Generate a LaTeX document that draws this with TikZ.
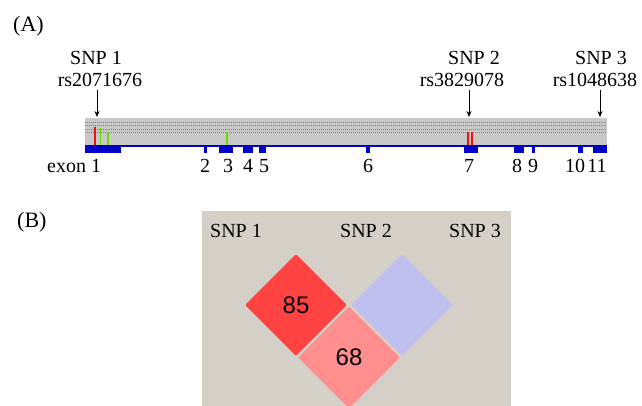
\documentclass[tikz,border=0pt]{standalone}
\usepackage{fontspec}
\setmainfont{Liberation Serif}
\newfontfamily\numfont{Liberation Sans}
\usetikzlibrary{arrows.meta,shapes.geometric}
\definecolor{bandgray}{HTML}{C8C8C8}
\definecolor{dotgray}{HTML}{808080}
\definecolor{panelgray}{HTML}{D4D0C8}
\definecolor{exonblue}{HTML}{0000C8}
\definecolor{ldred}{HTML}{FF4242}
\definecolor{ldpink}{HTML}{FF8E8E}
\definecolor{ldblue}{HTML}{C0C0EE}
\definecolor{snpred}{HTML}{F01010}
\definecolor{snpgreen}{HTML}{66DD00}
\tikzset{
  lbl/.style={inner sep=0pt, anchor=base, font=\fontsize{20}{24}\selectfont},
  panellbl/.style={inner sep=0pt, anchor=base west, font=\fontsize{22}{26}\selectfont},
  exonblk/.style={fill=exonblue, draw=none},
  snparrow/.style={draw=black, line width=0.7pt, -{Stealth[length=6pt,width=5pt]}},
  ldbox/.style={diamond, minimum width=102pt, minimum height=102pt, inner sep=0pt, aspect=1, rounded corners=2pt, font=\numfont\fontsize{24}{28}\selectfont},
  dots/.style={draw=dotgray, line width=0.9pt, dash pattern=on 1pt off 1pt},
  snpline/.style={line width=1.6pt}
}
\begin{document}
\begin{tikzpicture}[x=1pt,y=-1pt]
\useasboundingbox (0,0) rectangle (642,406);
\fill[white] (0,0) rectangle (642,406);
% ---------- Panel A ----------
\node[panellbl] (labA) at (13,32) {(A)};
% gray band
\fill[bandgray] (85,118) rectangle (607,145);
\foreach \yy in {122,125.5,129,132.5}
  \draw[dots] (85,\yy) -- (607,\yy);
% blue gene line
\draw[exonblue, line width=1.6pt] (85,146.2) -- (607,146.2);
% exon blocks
\foreach \xa/\xb in {85/121, 204/206.5, 219/233, 243/253, 259/266, 366/369.5, 464/478, 514/524, 532/534.5, 578/583, 593/607}
  \fill[exonblk] (\xa,145.5) rectangle (\xb,153);
% SNP markers
\draw[snpline, snpred] (95,127) -- (95,145);
\draw[snpline, snpgreen] (100.5,128) -- (100.5,145);
\draw[snpline, snpgreen] (108,132) -- (108,145);
\draw[snpline, snpgreen] (227,132) -- (227,145);
\draw[snpline, snpred] (468,132) -- (468,145);
\draw[snpline, snpred] (472,132) -- (472,145);
% SNP labels
\node[lbl] (snp1) at (96,65) {SNP 1};
\node[lbl] (rs1) at (100,86.5) {rs2071676};
\node[lbl] (snp2) at (474,65) {SNP 2};
\node[lbl] (rs2) at (462,86.5) {rs3829078};
\node[lbl] (snp3) at (601,65) {SNP 3};
\node[lbl] (rs3) at (595,86.5) {rs1048638};
\coordinate (a1s) at (97,90); \coordinate (a1e) at (97,117);
\coordinate (a2s) at (469,90); \coordinate (a2e) at (469,117);
\coordinate (a3s) at (600,90); \coordinate (a3e) at (600,117);
\draw[snparrow] (a1s) -- (a1e);
\draw[snparrow] (a2s) -- (a2e);
\draw[snparrow] (a3s) -- (a3e);
% exon labels
\node[lbl, anchor=base west] (ex1) at (47,173) {exon 1};
\foreach \xx/\tt/\nm in {205/2/ex2, 228/3/ex3, 248/4/ex4, 264/5/ex5, 368/6/ex6, 469/7/ex7, 517/8/ex8, 533/9/ex9, 575/10/ex10, 597/11/ex11}
  \node[lbl] (\nm) at (\xx,173) {\tt};
% ---------- Panel B ----------
\node[panellbl] (labB) at (17,227) {(B)};
\fill[panelgray] (202,211) rectangle (511,406);
\node[lbl] (bsnp1) at (236,237) {SNP 1};
\node[lbl] (bsnp2) at (366,237) {SNP 2};
\node[lbl] (bsnp3) at (475,237) {SNP 3};
\node[ldbox, fill=ldred] (d12) at (296,305) {85};
\node[ldbox, fill=ldblue] (d23) at (402,305) {};
\node[ldbox, fill=ldpink] (d13) at (349,357.5) {68};
\end{tikzpicture}
\end{document}
